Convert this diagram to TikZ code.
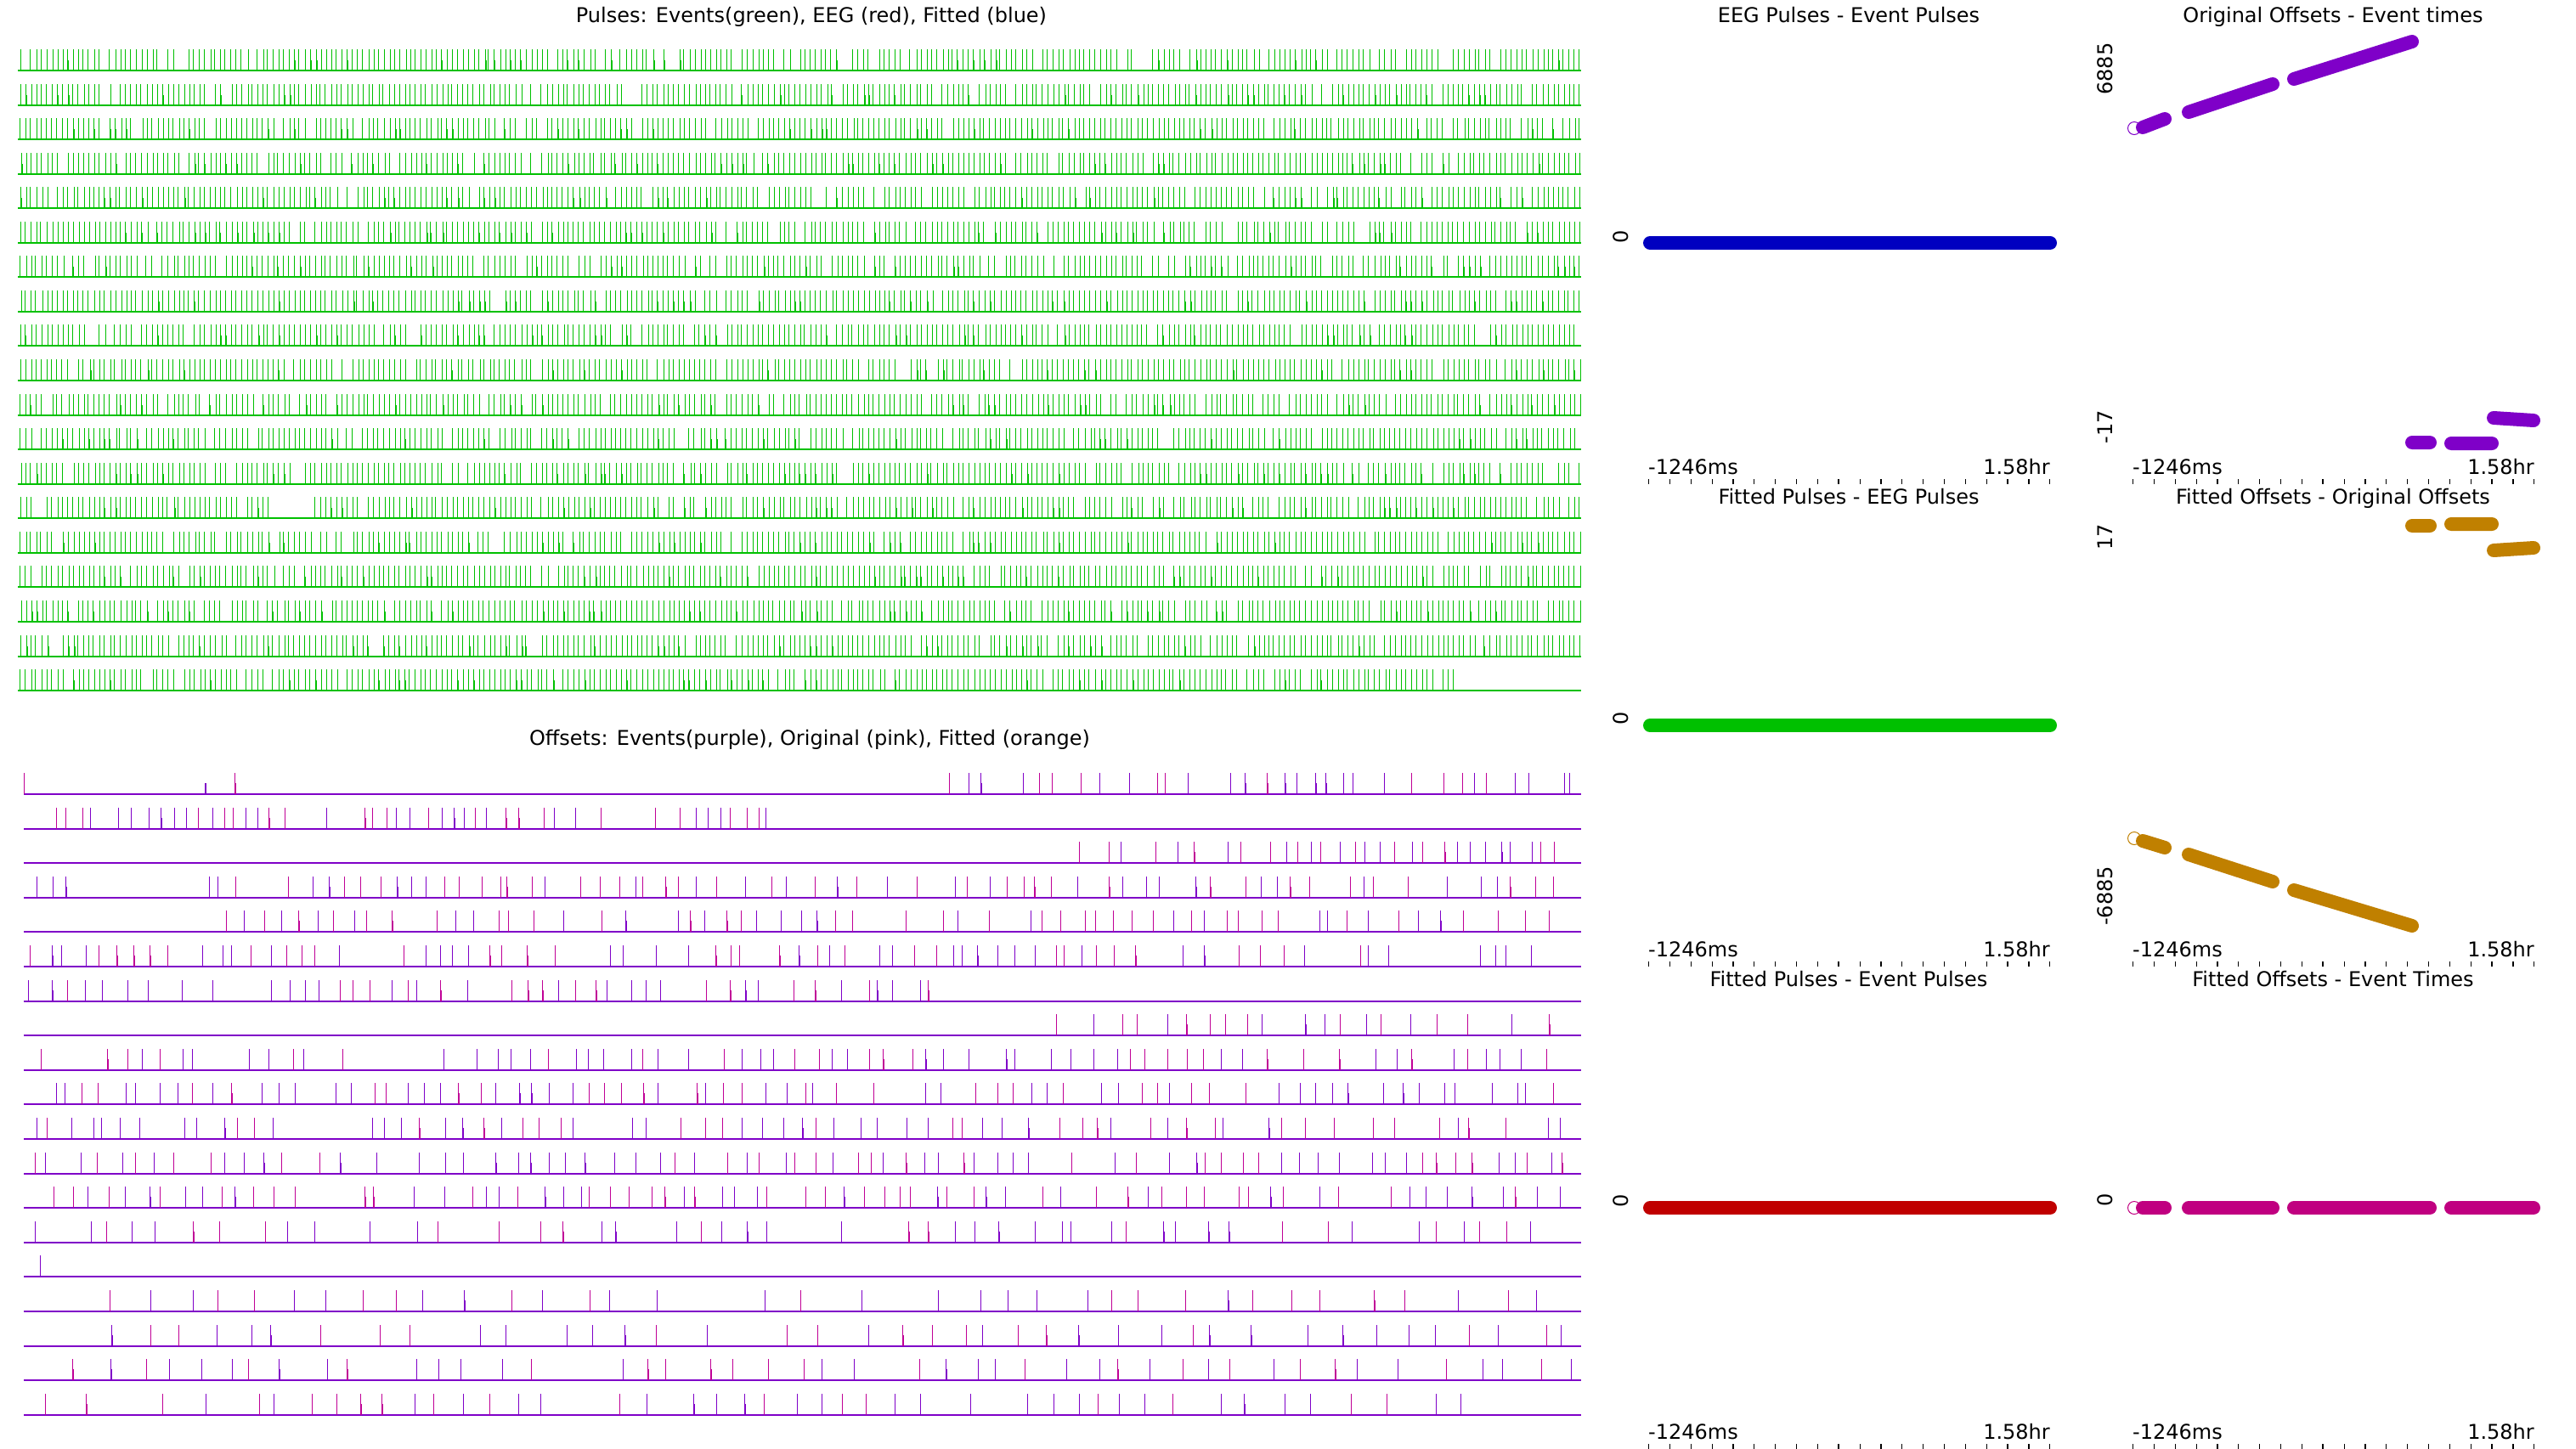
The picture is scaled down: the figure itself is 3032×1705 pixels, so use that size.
\documentclass[tikz,border=0pt]{standalone}
\usepackage{fontspec}
\setmainfont{DejaVu Sans}
\definecolor{evgreen}{RGB}{0,192,0}
\definecolor{evpurple}{RGB}{127,0,200}
\definecolor{orpink}{RGB}{192,0,150}
\definecolor{fitorange}{RGB}{192,128,0}
\definecolor{fitblue}{RGB}{0,0,192}
\definecolor{fitred}{RGB}{192,0,0}
\definecolor{fitmag}{RGB}{192,0,128}
\begin{document}
\begin{tikzpicture}
  [x=1pt,y=-1pt,
   every node/.style={inner sep=0pt,font=\fontsize{24}{28}\selectfont},
   ptitle/.style={anchor=base},
   ylab/.style={rotate=90,anchor=center},
   pulsebase/.style={evgreen,line width=2pt},
   pulsetick/.style={evgreen,line width=1pt},
   pulsehalf/.style={evgreen,line width=1.8pt},
   offbase/.style={evpurple,line width=2pt},
   offtick/.style={line width=1pt},
   offhalf/.style={line width=1.8pt},
   axtick/.style={black,line width=1.2pt},
   band/.style={line width=16pt,line cap=round},
   ring/.style={line width=1pt}]
  \useasboundingbox (0,0) rectangle (3032,1705);

  % pulses panel
  \node[ptitle] (pulsetitle) at (955,26) {Pulses: Events(green), EEG (red), Fitted (blue)};
  \foreach \prow/\pnum/\pgx/\pgw in {0/296/0/0,1/296/0/0,2/296/0/0,3/296/0/0,4/296/0/0,
      5/296/0/0,6/296/0/0,7/296/0/0,8/296/0/0,9/296/0/0,10/296/0/0,11/296/0/0,
      12/296/0/0,13/296/348/22,14/296/0/0,15/296/0/0,16/296/0/0,17/296/0/0,18/272/0/0}{
    \pgfmathsetmacro{\bly}{83+40.56*\prow}
    \draw[pulsebase] (21,\bly) -- (1861,\bly);
    \pgfmathsetseed{\prow*37+11}
    \draw[pulsetick] \foreach \kk [evaluate=\kk as \tkx using {23+6.2*\kk+2.6*rnd},
        evaluate=\kk as \tkh using {25*(rnd>0.07)*(abs(\tkx-\pgx)>\pgw)},
        evaluate=\kk as \hfh using {rnd}] in {0,...,\pnum} {(\tkx,\bly) -- ++(0,-\tkh)};
    \pgfmathsetseed{\prow*37+11}
    \draw[pulsehalf] \foreach \kk [evaluate=\kk as \tkx using {23+6.2*\kk+2.6*rnd},
        evaluate=\kk as \tkh using {25*(rnd>0.07)*(abs(\tkx-\pgx)>\pgw)},
        evaluate=\kk as \hfh using {12*(rnd<0.13)*(\tkh>0)}] in {0,...,\pnum} {(\tkx+0.6,\bly) -- ++(0,-\hfh)};
  }

  % offsets panel
  \node[ptitle] (offtitle) at (953,877) {Offsets: Events(purple), Original (pink), Fitted (orange)};
  \foreach \orow in {0,...,18}
    \draw[offbase] (28,935+40.6*\orow) -- (1861,935+40.6*\orow);
  \foreach \orow/\osx/\oex/\odx/\osk/\ogx/\ogw in {0/1099/1861/17/0.25/0/0,
      1/46/918/15/0.2/0/0,2/1248/1840/17/0.25/0/0,3/36/1836/20/0.2/157/55,
      4/260/1839/21/0.2/0/0,5/30/1857/20/0.2/0/0,6/30/1124/20/0.2/0/0,
      7/1241/1861/22/0.25/0/0,8/48/1824/22/0.2/0/0,9/52/1850/21/0.2/0/0,
      10/30/1845/22/0.2/0/0,11/30/1847/21/0.2/0/0,12/40/1851/21/0.2/0/0,
      13/30/1833/30/0.25/0/0,15/119/1822/42/0.2/0/0,16/125/1856/38/0.2/0/0,
      17/82/1859/35/0.2/0/0,18/52/1719/30/0.2/0/0}{
    \pgfmathsetmacro{\bly}{935+40.6*\orow}
    \pgfmathtruncatemacro{\onum}{(\oex-\osx)/\odx-0.5}
    \foreach \ocol/\olo/\ohi in {evpurple/0/0.55,orpink/0.55/1.01}{
      \pgfmathsetseed{\orow*53+7}
      \draw[offtick,\ocol] \foreach \kk [evaluate=\kk as \tkx using {\osx+\odx*\kk+0.7*\odx*rnd},
          evaluate=\kk as \ton using {(rnd>\osk)*(abs(\tkx-\ogx)>\ogw)},
          evaluate=\kk as \tcl using {rnd},
          evaluate=\kk as \hfh using {rnd},
          evaluate=\kk as \tkh using {25*\ton*(\tcl>=\olo)*(\tcl<\ohi)}] in {0,...,\onum} {(\tkx,\bly) -- ++(0,-\tkh)};
      \pgfmathsetseed{\orow*53+7}
      \draw[offhalf,\ocol] \foreach \kk [evaluate=\kk as \tkx using {\osx+\odx*\kk+0.7*\odx*rnd},
          evaluate=\kk as \ton using {(rnd>\osk)*(abs(\tkx-\ogx)>\ogw)},
          evaluate=\kk as \tcl using {rnd},
          evaluate=\kk as \hfh using {13*\ton*(rnd<0.2)*(\tcl>=\olo)*(\tcl<\ohi)}] in {0,...,\onum} {(\tkx+0.4,\bly) -- ++(0,-\hfh)};
    }
  }
  % odd ticks of first and fifteenth rows
  \draw[offtick,orpink] (28,935) -- ++(0,-25) (276,935) -- ++(0,-25);
  \draw[offhalf,evpurple] (242,935) -- ++(0,-13);
  \draw[offhalf,orpink] (276.6,935) -- ++(0,-13);
  \draw[offtick,evpurple] (47,1503.4) -- ++(0,-25);

  % small panels: titles, axis labels, ticks
  \foreach \ccx/\ccol in {2176/2,2746/3}
    \foreach \rry/\crow in {0/1,568/2,1136/3}{
      \node[anchor=base west] (lo-\ccol-\crow) at (\ccx-236,558+\rry) {-1246ms};
      \node[anchor=base east] (hi-\ccol-\crow) at (\ccx+237,558+\rry) {1.58hr};
      \foreach \ti in {0,...,19}
        \draw[axtick] (\ccx-235.4+24.85*\ti,564+\rry) -- ++(0,6);
      \draw[axtick,line width=2pt] (\ccx-235.4+24.85*9,564+\rry) -- ++(0,6);
    }
  \node[ptitle] (t-2-1) at (2176,26) {EEG Pulses - Event Pulses};
  \node[ptitle] (t-2-2) at (2176,593) {Fitted Pulses - EEG Pulses};
  \node[ptitle] (t-2-3) at (2176,1161) {Fitted Pulses - Event Pulses};
  \node[ptitle] (t-3-1) at (2746,26) {Original Offsets - Event times};
  \node[ptitle] (t-3-2) at (2746,593) {Fitted Offsets - Original Offsets};
  \node[ptitle] (t-3-3) at (2746,1161) {Fitted Offsets - Event Times};

  % y labels
  \node[ylab] (y-2-1) at (1908,279) {0};
  \node[ylab] (y-2-2) at (1908,846) {0};
  \node[ylab] (y-2-3) at (1908,1414) {0};
  \node[ylab] (y-3-1a) at (2478,81) {6885};
  \node[ylab] (y-3-1b) at (2478,503) {-17};
  \node[ylab] (y-3-2a) at (2478,632) {17};
  \node[ylab] (y-3-2b) at (2478,1055) {-6885};
  \node[ylab] (y-3-3) at (2478,1413) {0};

  % differences
  \draw[band,fitblue] (1942,286) -- (2413,286);
  \draw[band,evgreen] (1942,854) -- (2413,854);
  \draw[band,fitred] (1942,1422) -- (2413,1422);

  \draw[ring,evpurple] (2512,151) circle (7.5);
  \draw[band,evpurple] (2522,150) -- (2548,140) (2576,132) -- (2675,99) (2700,93) -- (2839,49)
    (2839,521) -- (2860,521) (2885,522) -- (2933,522) (2935,492) -- (2982,495);
  \draw[ring,fitorange] (2512,987) circle (7.5);
  \draw[band,fitorange] (2839,619) -- (2860,619) (2885,617) -- (2933,617) (2935,648) -- (2982,645)
    (2522,990) -- (2548,998) (2576,1006) -- (2675,1038) (2700,1048) -- (2839,1090);
  \draw[ring,fitmag] (2512,1422) circle (7.5);
  \draw[band,fitmag] (2522,1422) -- (2548,1422) (2576,1422) -- (2675,1422)
    (2700,1422) -- (2860,1422) (2885,1422) -- (2982,1422);
\end{tikzpicture}
\end{document}
